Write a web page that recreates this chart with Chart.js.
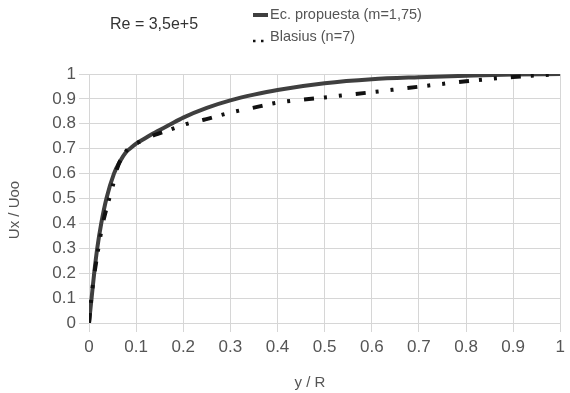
<!DOCTYPE html>
<html>
<head>
<meta charset="utf-8">
<title>Perfil de velocidad</title>
<script src="https://cdn.jsdelivr.net/npm/chart.js@4.4.1/dist/chart.umd.min.js"></script>
<style>
    html, body { margin: 0; padding: 0; background: #fff; }
    #wrap { width: 570px; height: 393px; }
</style>
</head>
<body>
<div id="wrap"><canvas id="perfil"></canvas></div>
<script>
// Perfil propuesto (m = 1,75)
const yPropuesta = [0, 0.0055, 0.011, 0.0175, 0.026, 0.037, 0.053, 0.066, 0.078, 0.09, 0.1, 0.12, 0.135, 0.17, 0.2, 0.25, 0.3, 0.35, 0.4, 0.5, 0.6, 0.7, 0.8, 0.9, 1];
const uPropuesta = [0, 0.1, 0.2, 0.3, 0.4, 0.5, 0.6, 0.65, 0.685, 0.705, 0.72, 0.743, 0.76, 0.795, 0.825, 0.864, 0.894, 0.917, 0.936, 0.963, 0.979, 0.987, 0.993, 0.998, 1];

// Ley de Blasius (n = 7)
const yBlasius = [0, 0.005, 0.01, 0.017, 0.024, 0.031, 0.04, 0.05, 0.059, 0.073, 0.09, 0.11, 0.139, 0.17, 0.208, 0.247, 0.3, 0.35, 0.4, 0.5, 0.6, 0.7, 0.8, 0.9, 1];
const uBlasius = [0, 0.1, 0.18, 0.266, 0.347, 0.414, 0.48, 0.547, 0.617, 0.675, 0.71, 0.73, 0.755, 0.775, 0.8, 0.818, 0.845, 0.865, 0.885, 0.906, 0.927, 0.949, 0.971, 0.988, 1];

const xTickLabels = ['0', '0.1', '0.2', '0.3', '0.4', '0.5', '0.6', '0.7', '0.8', '0.9', '1'];
const yTickLabels = ['0', '0.1', '0.2', '0.3', '0.4', '0.5', '0.6', '0.7', '0.8', '0.9', '1'];

const seriesLabels = ['Ec. propuesta (m=1,75)', 'Blasius (n=7)'];
const reynoldsText = 'Re = 3,5e+5';
const xTitle = 'y / R';
const yTitle = 'Ux / Uoo';

const FONT = '"Liberation Sans", Arial, sans-serif';
const GRID = '#d6d6d6';
const TEXT = '#555';

function toPoints(xs, ys) {
    return xs.map((x, i) => ({ x: x, y: ys[i] }));
}

// Title, legend and axis titles drawn around the plot area
const decorations = {
    id: 'decorations',
    afterDraw(chart) {
        const ctx = chart.ctx;
        ctx.save();

        ctx.fillStyle = '#333';
        ctx.font = '16px ' + FONT;
        ctx.textAlign = 'left';
        ctx.textBaseline = 'middle';
        ctx.fillText(reynoldsText, 110, 25);

        // legend
        const sets = chart.data.datasets;
        const rows = [15, 37];
        sets.forEach((ds, i) => {
            const y = rows[i];
            ctx.beginPath();
            ctx.strokeStyle = ds.borderColor;
            if (i === 0) {
                ctx.lineWidth = 4;
                ctx.setLineDash([]);
                ctx.moveTo(253, y);
                ctx.lineTo(268, y);
            } else {
                ctx.lineWidth = 2.5;
                ctx.setLineDash([2.5, 5.5]);
                ctx.moveTo(253, y + 4);
                ctx.lineTo(268, y + 4);
            }
            ctx.stroke();
            ctx.setLineDash([]);
            ctx.fillStyle = TEXT;
            ctx.font = '14.5px ' + FONT;
            ctx.fillText(ds.label, 270, y);
        });

        // axis titles
        ctx.fillStyle = TEXT;
        ctx.font = '15px ' + FONT;
        ctx.textAlign = 'center';
        ctx.fillText(xTitle, 310, 383);
        ctx.translate(15, 210);
        ctx.rotate(-Math.PI / 2);
        ctx.fillText(yTitle, 0, 0);
        ctx.restore();
    }
};

const chart = new Chart(document.getElementById('perfil'), {
    type: 'line',
    data: {
        datasets: [{
            label: seriesLabels[0],
            data: toPoints(yPropuesta, uPropuesta),
            borderColor: '#3f3f3f',
            borderWidth: 4,
            pointRadius: 0,
            cubicInterpolationMode: 'monotone',
            order: 1
        }, {
            label: seriesLabels[1],
            data: toPoints(yBlasius, uBlasius),
            borderColor: '#111',
            borderWidth: 4,
            borderDash: [10, 10, 3, 12, 3, 14],
            borderCapStyle: 'butt',
            pointRadius: 0,
            cubicInterpolationMode: 'monotone',
            order: 0
        }]
    },
    options: {
        responsive: true,
        maintainAspectRatio: false,
        animation: false,
        layout: { padding: { top: 74, right: 5, left: 0, bottom: 0 } },
        plugins: {
            legend: { display: false },
            tooltip: { enabled: false }
        },
        scales: {
            x: {
                type: 'linear',
                min: 0,
                max: 1,
                afterFit(scale) { scale.height = 70; },
                grid: { color: GRID, lineWidth: 1, tickLength: 9, tickColor: GRID },
                border: { color: GRID },
                ticks: {
                    stepSize: 0.1,
                    color: TEXT,
                    padding: 5,
                    maxRotation: 0,
                    font: { family: FONT, size: 17 },
                    callback: (v, i) => xTickLabels[i]
                }
            },
            y: {
                type: 'linear',
                min: 0,
                max: 1,
                afterFit(scale) { scale.width = 89; },
                grid: { color: GRID, lineWidth: 1, tickLength: 10, tickColor: GRID },
                border: { color: GRID },
                ticks: {
                    stepSize: 0.1,
                    color: TEXT,
                    padding: 3,
                    font: { family: FONT, size: 17 },
                    callback: (v, i) => yTickLabels[i]
                }
            }
        }
    },
    plugins: [decorations]
});
</script>
</body>
</html>
